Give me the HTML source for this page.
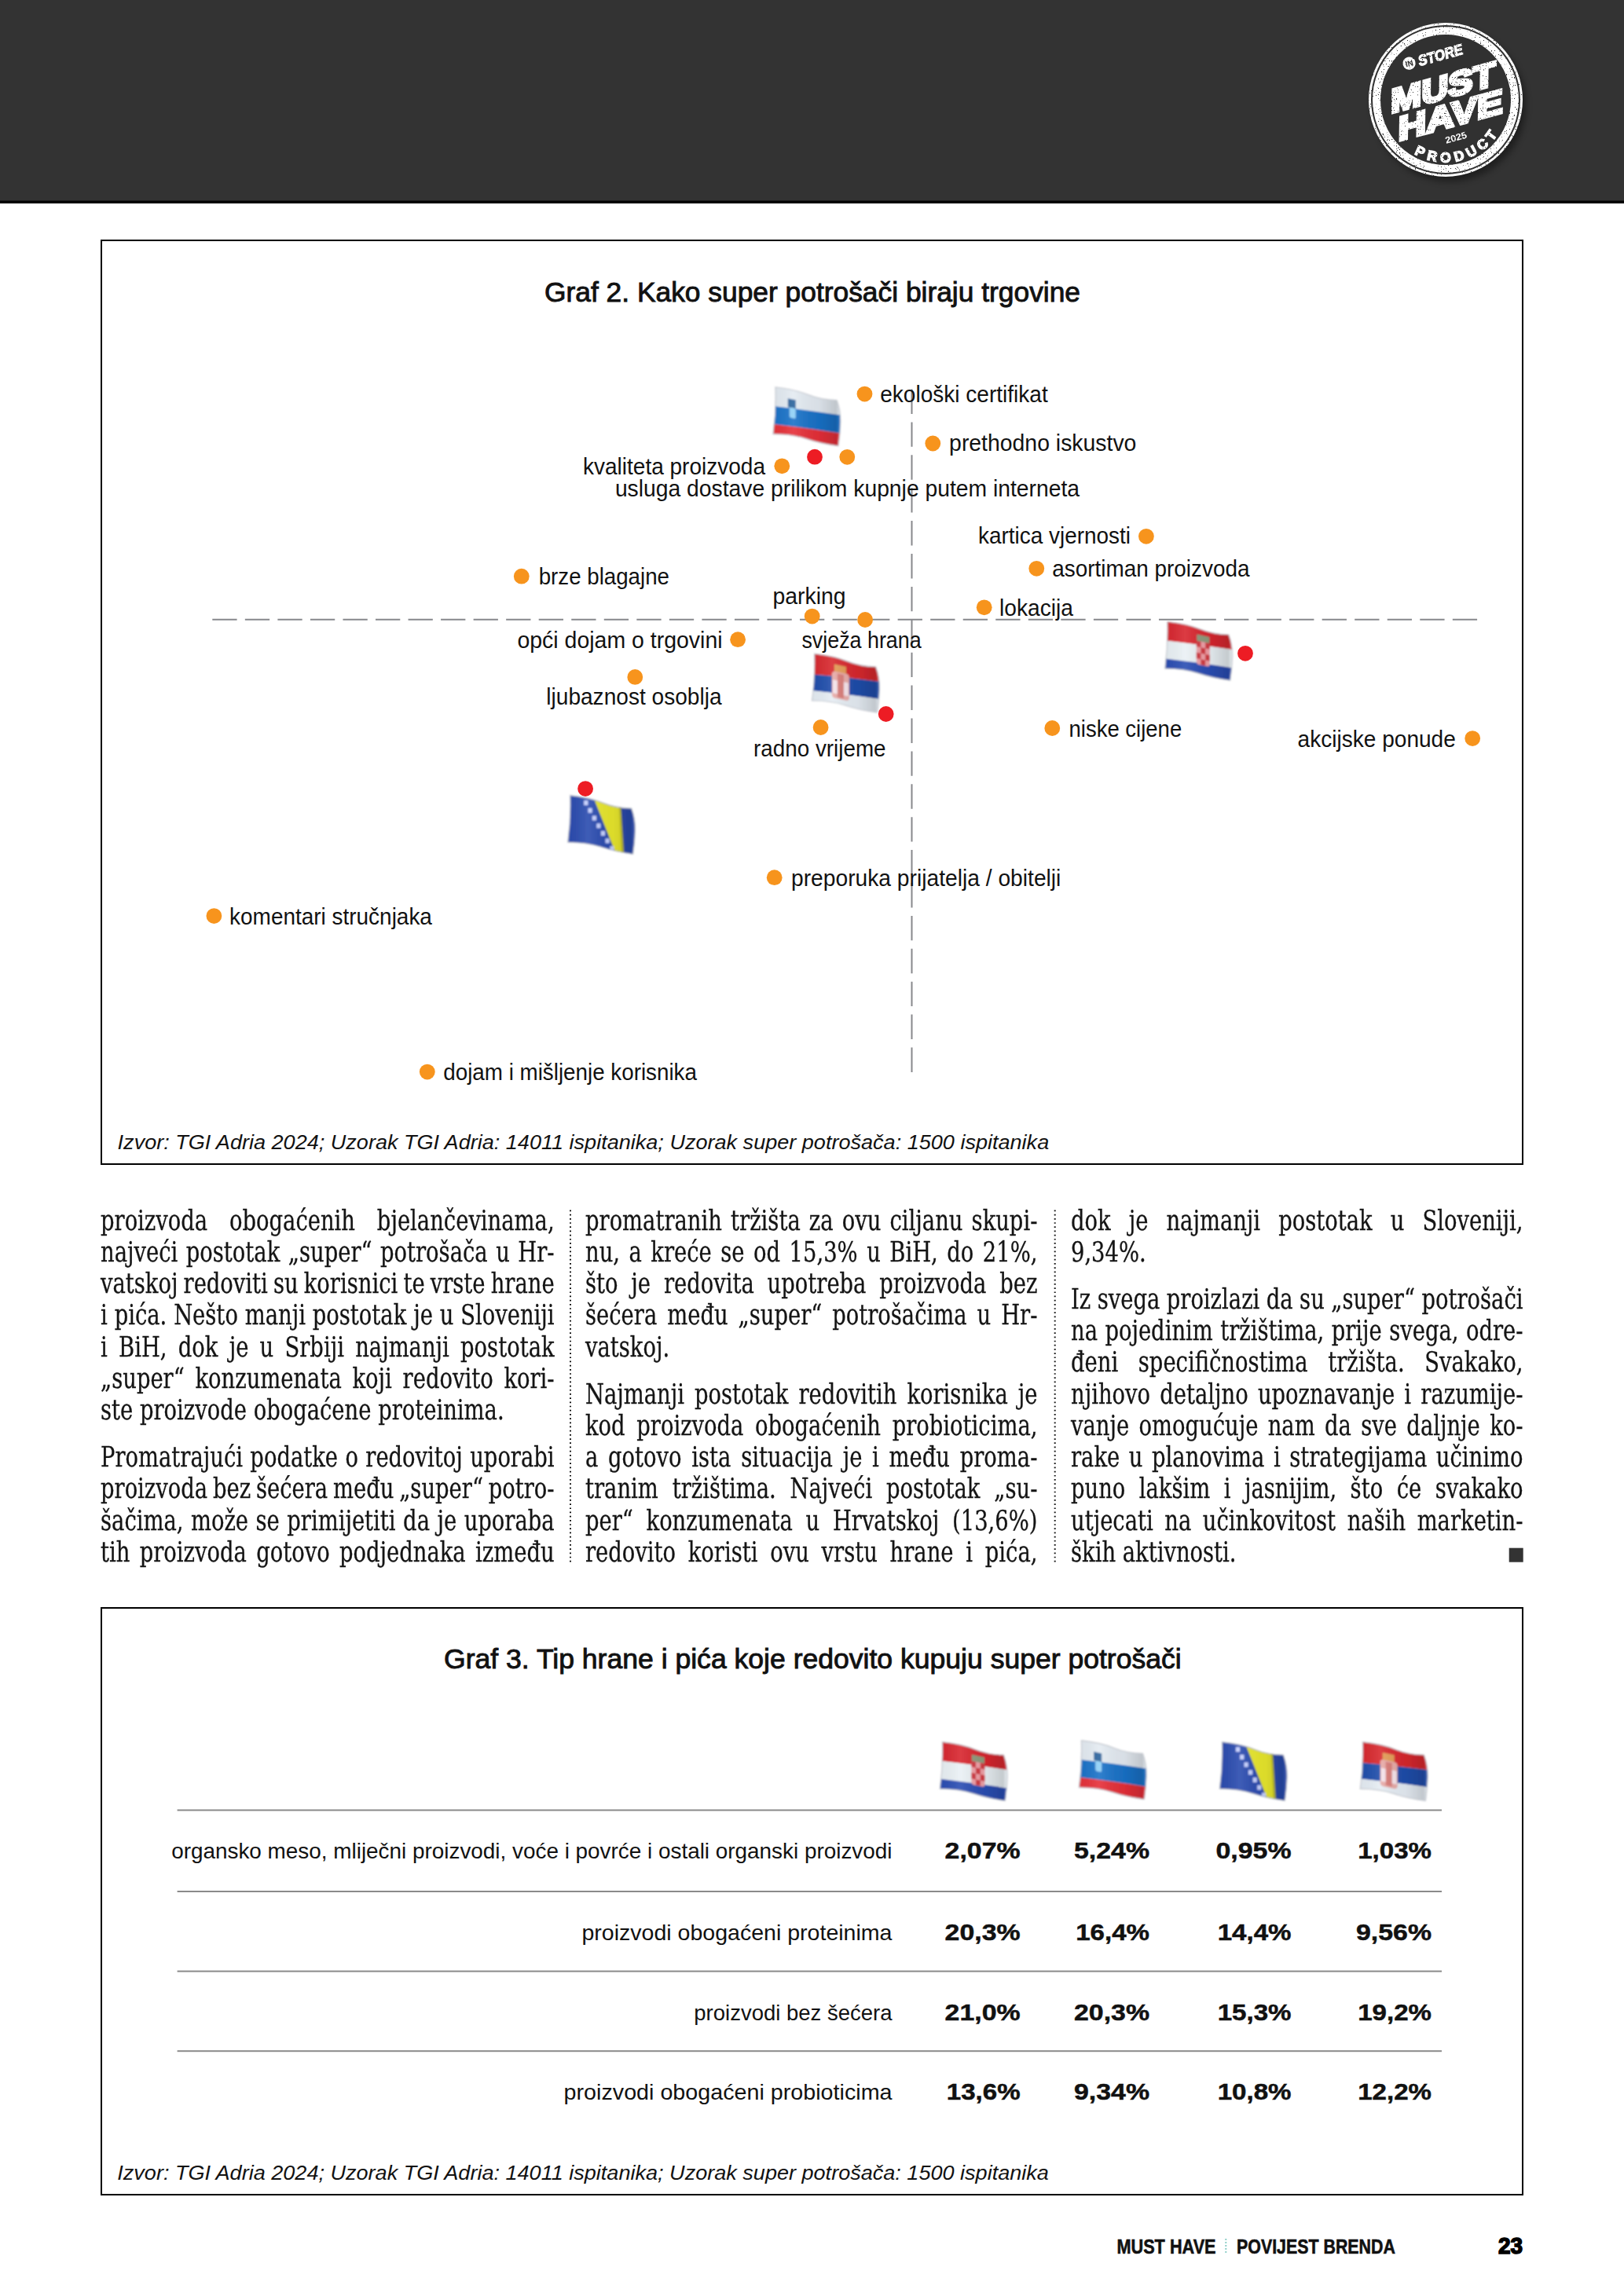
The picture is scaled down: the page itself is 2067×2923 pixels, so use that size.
<!DOCTYPE html>
<html lang="hr"><head><meta charset="utf-8"><title>Must Have – Povijest brenda</title>
<style>
html,body{margin:0;padding:0;background:#fff}
body{width:2067px;height:2923px;position:relative}
.col{position:absolute;top:1533.6px;font-family:"DejaVu Serif Condensed", "DejaVu Serif", "Liberation Serif", serif;font-stretch:condensed;font-size:35px;line-height:40.27px;color:#141414;-webkit-text-stroke:0.3px #141414;word-spacing:-3px;transform:scaleX(0.87);transform-origin:0 0}
.col p{margin:0 0 19.6px 0}
.l{display:block;white-space:nowrap;text-align:justify;text-align-last:justify}
.l.e{text-align:left;text-align-last:left;word-spacing:0}
</style></head><body>
<svg width="2067" height="2923" viewBox="0 0 2067 2923" style="position:absolute;left:0;top:0" font-family='"Liberation Sans", Arial, sans-serif'>
<defs><filter id="fb" x="-10%" y="-10%" width="120%" height="120%"><feGaussianBlur stdDeviation="0.9"/></filter><linearGradient id="fs" x1="0" y1="0" x2="1" y2="0"><stop offset="0" stop-color="#000" stop-opacity="0.04"/><stop offset="0.3" stop-color="#fff" stop-opacity="0.10"/><stop offset="0.62" stop-color="#000" stop-opacity="0.05"/><stop offset="0.85" stop-color="#000" stop-opacity="0.16"/><stop offset="0.92" stop-color="#fff" stop-opacity="0.05"/><stop offset="1" stop-color="#000" stop-opacity="0.1"/></linearGradient><filter id="grunge" x="-5%" y="-5%" width="110%" height="110%"><feTurbulence type="fractalNoise" baseFrequency="0.7" numOctaves="2" seed="7" result="n"/><feColorMatrix in="n" type="matrix" values="0 0 0 0 0  0 0 0 0 0  0 0 0 0 0  -13 0 0 0 9.6" result="m"/><feComposite in="SourceGraphic" in2="m" operator="in"/></filter><filter id="bsh" x="-20%" y="-20%" width="150%" height="150%"><feGaussianBlur stdDeviation="4"/></filter></defs>
<rect x="0" y="0" width="2067" height="256" fill="#333"/><rect x="0" y="255.5" width="2067" height="3.5" fill="#000"/>
<rect x="129" y="306" width="1809" height="1176" fill="#fff" stroke="#000" stroke-width="2"/>
<rect x="129" y="2047" width="1809" height="747" fill="#fff" stroke="#000" stroke-width="2"/>
<line x1="270.3" y1="788.8" x2="1880.1" y2="788.8" stroke="#87888c" stroke-width="2" stroke-dasharray="31.3 10.24"/>
<line x1="1160.5" y1="1364.9" x2="1160.5" y2="495.5" stroke="#87888c" stroke-width="2" stroke-dasharray="31.4 10.5"/>
<text x="693" y="384" font-size="34.6" textLength="682" lengthAdjust="spacingAndGlyphs" fill="#111" stroke="#111" stroke-width="0.9">Graf 2. Kako super potrošači biraju trgovine</text>
<text x="565" y="2124.4" font-size="34.6" textLength="938.7" lengthAdjust="spacingAndGlyphs" fill="#111" stroke="#111" stroke-width="0.9">Graf 3. Tip hrane i pića koje redovito kupuju super potrošači</text>
<text x="1120.2" y="512.0" font-size="28.6" textLength="213.5" lengthAdjust="spacingAndGlyphs" fill="#111">ekološki certifikat</text>
<text x="1208.1" y="573.7" font-size="28.6" textLength="238.3" lengthAdjust="spacingAndGlyphs" fill="#111">prethodno iskustvo</text>
<text x="742" y="603.7" font-size="28.6" textLength="232.0" lengthAdjust="spacingAndGlyphs" fill="#111">kvaliteta proizvoda</text>
<text x="782.9" y="631.7" font-size="28.6" textLength="591.1" lengthAdjust="spacingAndGlyphs" fill="#111">usluga dostave prilikom kupnje putem interneta</text>
<text x="1245" y="691.7" font-size="28.6" textLength="194.0" lengthAdjust="spacingAndGlyphs" fill="#111">kartica vjernosti</text>
<text x="1339.3" y="734.4000000000001" font-size="28.6" textLength="251.2" lengthAdjust="spacingAndGlyphs" fill="#111">asortiman proizvoda</text>
<text x="685.7" y="744.3000000000001" font-size="28.6" textLength="166.3" lengthAdjust="spacingAndGlyphs" fill="#111">brze blagajne</text>
<text x="983.5" y="769.0" font-size="28.6" textLength="93.1" lengthAdjust="spacingAndGlyphs" fill="#111">parking</text>
<text x="1272" y="784.3000000000001" font-size="28.6" textLength="93.9" lengthAdjust="spacingAndGlyphs" fill="#111">lokacija</text>
<text x="658.4" y="824.5" font-size="28.6" textLength="261.2" lengthAdjust="spacingAndGlyphs" fill="#111">opći dojam o trgovini</text>
<text x="1020.4" y="824.5" font-size="28.6" textLength="152.3" lengthAdjust="spacingAndGlyphs" fill="#111">svježa hrana</text>
<text x="695.3" y="897.2" font-size="28.6" textLength="223.2" lengthAdjust="spacingAndGlyphs" fill="#111">ljubaznost osoblja</text>
<text x="959" y="963.0" font-size="28.6" textLength="168.6" lengthAdjust="spacingAndGlyphs" fill="#111">radno vrijeme</text>
<text x="1360.5" y="937.7" font-size="28.6" textLength="143.7" lengthAdjust="spacingAndGlyphs" fill="#111">niske cijene</text>
<text x="1651.6" y="951.2" font-size="28.6" textLength="201.2" lengthAdjust="spacingAndGlyphs" fill="#111">akcijske ponude</text>
<text x="1007" y="1127.7" font-size="28.6" textLength="343.4" lengthAdjust="spacingAndGlyphs" fill="#111">preporuka prijatelja / obitelji</text>
<text x="292.1" y="1176.7" font-size="28.6" textLength="257.8" lengthAdjust="spacingAndGlyphs" fill="#111">komentari stručnjaka</text>
<text x="564.3" y="1374.5" font-size="28.6" textLength="322.6" lengthAdjust="spacingAndGlyphs" fill="#111">dojam i mišljenje korisnika</text>
<g transform="translate(984.6,493.6)"><clipPath id="ca"><path d="M3,0 Q28,3 44,9.5 T80,16.5 Q85,30 84.5,45 T81.8,73.5 Q60,70.5 42,64.5 T0,58.5 Q4,30 3,0Z"/></clipPath><g filter="url(#fb)"><path d="M3,0 Q28,3 44,9.5 T80,16.5 Q85,30 84.5,45 T81.8,73.5 Q60,70.5 42,64.5 T0,58.5 Q4,30 3,0Z" fill="#fff" stroke="#c4c8cf" stroke-width="2.4"/><g clip-path="url(#ca)"><path d="M1.2,-3.5 Q41.5,4.1 85.9,14.1 L86.6,35.2 Q41.3,28.1 -0.2,23.4Z" fill="#e4ebf2"/><path d="M-0.2,23.4 Q41.3,28.1 86.6,35.2 L87.3,58.5 Q41.1,51.2 -1.4,46.2Z" fill="#1a72c8"/><path d="M-1.4,46.2 Q41.1,51.2 87.3,58.5 L87.9,77.9 Q40.9,68.8 -2.2,62.0Z" fill="#e62f38"/><g transform="translate(23.2,23.6) skewY(12)"><rect x="-5" y="-9" width="10" height="11" fill="#2a639c"/><rect x="-3" y="2" width="8" height="13" rx="2" fill="#8fd0f7"/></g><rect x="-5" y="-5" width="100" height="90" fill="url(#fs)"/></g></g></g>
<g transform="translate(1034.2,832.9)"><clipPath id="cb"><path d="M3,0 Q28,3 44,9.5 T80,16.5 Q85,30 84.5,45 T81.8,73.5 Q60,70.5 42,64.5 T0,58.5 Q4,30 3,0Z"/></clipPath><g filter="url(#fb)"><path d="M3,0 Q28,3 44,9.5 T80,16.5 Q85,30 84.5,45 T81.8,73.5 Q60,70.5 42,64.5 T0,58.5 Q4,30 3,0Z" fill="#fff" stroke="#c4c8cf" stroke-width="2.4"/><g clip-path="url(#cb)"><path d="M1.2,-3.5 Q41.5,4.1 85.9,14.1 L86.6,35.2 Q41.3,29.2 -0.3,25.7Z" fill="#d8282e"/><path d="M-0.3,25.7 Q41.3,29.2 86.6,35.2 L87.3,57.4 Q41.1,50.6 -1.4,46.2Z" fill="#1f4dab"/><path d="M-1.4,46.2 Q41.1,50.6 87.3,57.4 L87.9,77.9 Q40.9,68.8 -2.2,62.0Z" fill="#e6edf4"/><g transform="translate(35.7,35.4) skewY(12)"><rect x="-8" y="-21" width="15" height="10" fill="#e39a55"/><rect x="-11" y="-12" width="22" height="34" rx="4" fill="#e7a9a6"/><rect x="-4" y="-10" width="8" height="30" fill="#d77a76"/><rect x="-10" y="-1" width="6" height="17" fill="#f5e3ea"/><rect x="4" y="-1" width="6" height="17" fill="#f5e3ea"/></g><rect x="-5" y="-5" width="100" height="90" fill="url(#fs)"/></g></g></g>
<g transform="translate(1483.4,792.1)"><clipPath id="cc"><path d="M3,0 Q28,3 44,9.5 T80,16.5 Q85,30 84.5,45 T81.8,73.5 Q60,70.5 42,64.5 T0,58.5 Q4,30 3,0Z"/></clipPath><g filter="url(#fb)"><path d="M3,0 Q28,3 44,9.5 T80,16.5 Q85,30 84.5,45 T81.8,73.5 Q60,70.5 42,64.5 T0,58.5 Q4,30 3,0Z" fill="#fff" stroke="#c4c8cf" stroke-width="2.4"/><g clip-path="url(#cc)"><path d="M1.2,-3.5 Q41.5,4.1 85.9,14.1 L86.6,35.2 Q41.3,28.1 -0.2,23.4Z" fill="#d8262f"/><path d="M-0.2,23.4 Q41.3,28.1 86.6,35.2 L87.3,58.5 Q41.1,51.2 -1.4,46.2Z" fill="#eaf1f5"/><path d="M-1.4,46.2 Q41.1,51.2 87.3,58.5 L87.9,77.9 Q40.9,68.8 -2.2,62.0Z" fill="#2a4db3"/><g transform="translate(47.9,40.2) skewY(12)"><rect x="-8" y="-23" width="16" height="9" fill="#8d9a7c"/><rect x="-8.5" y="-15" width="17" height="30" rx="3.5" fill="#ef9fa6"/><rect x="-8.5" y="-15" width="5.6" height="7.5" fill="#cf3a42"/><rect x="2.9" y="-15" width="5.6" height="7.5" fill="#cf3a42"/><rect x="-2.9" y="-7.5" width="5.8" height="7.5" fill="#cf3a42"/><rect x="-8.5" y="0" width="5.6" height="7.5" fill="#cf3a42"/><rect x="2.9" y="0" width="5.6" height="7.5" fill="#cf3a42"/><rect x="-2.9" y="7.5" width="5.8" height="7" fill="#cf3a42"/></g><rect x="-5" y="-5" width="100" height="90" fill="url(#fs)"/></g></g></g>
<g transform="translate(723.3,1013.2)"><clipPath id="cd"><path d="M3,0 Q28,3 44,9.5 T80,16.5 Q85,30 84.5,45 T81.8,73.5 Q60,70.5 42,64.5 T0,58.5 Q4,30 3,0Z"/></clipPath><g filter="url(#fb)"><path d="M3,0 Q28,3 44,9.5 T80,16.5 Q85,30 84.5,45 T81.8,73.5 Q60,70.5 42,64.5 T0,58.5 Q4,30 3,0Z" fill="#fff" stroke="#c4c8cf" stroke-width="2.4"/><g clip-path="url(#cd)"><path d="M1.2,-3.5 Q41.5,4.1 85.9,14.1 L87.9,77.9 Q40.9,68.8 -2.2,62.0Z" fill="#2a4baf"/><polygon points="33.1,4.7 66.9,12.0 70.8,73.2 59.7,71.2" fill="#e8e72c"/><polygon points="64.6,11.5 67.3,12.1 71.0,73.2 67.9,72.7" fill="#6b6f3a" opacity="0.35"/><rect x="19.9" y="5.9" width="5.2" height="6" fill="#c5d0ff"/><rect x="25.2" y="15.6" width="5.2" height="6" fill="#c5d0ff"/><rect x="30.5" y="25.3" width="5.2" height="6" fill="#c5d0ff"/><rect x="36.0" y="35.1" width="5.2" height="6" fill="#c5d0ff"/><rect x="41.6" y="44.7" width="5.2" height="6" fill="#c5d0ff"/><rect x="47.2" y="54.3" width="5.2" height="6" fill="#c5d0ff"/><rect x="53.0" y="64.0" width="5.2" height="6" fill="#c5d0ff"/><rect x="-5" y="-5" width="100" height="90" fill="url(#fs)"/></g></g></g>
<circle cx="1100.5" cy="501.6" r="9.9" fill="#f7941d"/>
<circle cx="1187.3" cy="564.5" r="9.9" fill="#f7941d"/>
<circle cx="995.3" cy="593.3" r="9.9" fill="#f7941d"/>
<circle cx="1037.0" cy="581.7" r="9.9" fill="#ed1c24"/>
<circle cx="1078.3" cy="581.8" r="9.9" fill="#f7941d"/>
<circle cx="1458.9" cy="682.8" r="9.9" fill="#f7941d"/>
<circle cx="1319.3" cy="723.8" r="9.9" fill="#f7941d"/>
<circle cx="663.8" cy="733.7" r="9.9" fill="#f7941d"/>
<circle cx="1033.7" cy="784.6" r="9.9" fill="#f7941d"/>
<circle cx="1101.1" cy="789.0" r="9.9" fill="#f7941d"/>
<circle cx="1252.7" cy="773.3" r="9.9" fill="#f7941d"/>
<circle cx="939.1" cy="814.2" r="9.9" fill="#f7941d"/>
<circle cx="808.3" cy="861.9" r="9.9" fill="#f7941d"/>
<circle cx="1044.6" cy="926.0" r="9.9" fill="#f7941d"/>
<circle cx="1127.7" cy="909.0" r="9.9" fill="#ed1c24"/>
<circle cx="1585.0" cy="831.8" r="9.9" fill="#ed1c24"/>
<circle cx="1339.3" cy="927.0" r="9.9" fill="#f7941d"/>
<circle cx="1874.2" cy="940.1" r="9.9" fill="#f7941d"/>
<circle cx="745.1" cy="1004.1" r="9.9" fill="#ed1c24"/>
<circle cx="985.7" cy="1117.2" r="9.9" fill="#f7941d"/>
<circle cx="272.4" cy="1166.1" r="9.9" fill="#f7941d"/>
<circle cx="543.8" cy="1364.6" r="9.9" fill="#f7941d"/>
<text x="149.6" y="1462.9" font-size="26.6" font-style="italic" textLength="1185.6" lengthAdjust="spacingAndGlyphs" fill="#111">Izvor: TGI Adria 2024; Uzorak TGI Adria: 14011 ispitanika; Uzorak super potrošača: 1500 ispitanika</text>
<text x="149.3" y="2775.3" font-size="26.6" font-style="italic" textLength="1185.6" lengthAdjust="spacingAndGlyphs" fill="#111">Izvor: TGI Adria 2024; Uzorak TGI Adria: 14011 ispitanika; Uzorak super potrošača: 1500 ispitanika</text>
<rect x="225.6" y="2303.5" width="1609.4" height="2" fill="#8a8a8a"/>
<rect x="225.6" y="2407" width="1609.4" height="2" fill="#8a8a8a"/>
<rect x="225.6" y="2508.6" width="1609.4" height="2" fill="#8a8a8a"/>
<rect x="225.6" y="2610.2" width="1609.4" height="2" fill="#8a8a8a"/>
<text x="218.2" y="2366" font-size="28" textLength="917.3" lengthAdjust="spacingAndGlyphs" fill="#111">organsko meso, mliječni proizvodi, voće i povrće i ostali organski proizvodi</text>
<text x="1202.6" y="2366" font-size="30.4" font-weight="700" textLength="96" lengthAdjust="spacingAndGlyphs" fill="#111" stroke="#111" stroke-width="0.5">2,07%</text>
<text x="1367" y="2366" font-size="30.4" font-weight="700" textLength="96" lengthAdjust="spacingAndGlyphs" fill="#111" stroke="#111" stroke-width="0.5">5,24%</text>
<text x="1547.5" y="2366" font-size="30.4" font-weight="700" textLength="96" lengthAdjust="spacingAndGlyphs" fill="#111" stroke="#111" stroke-width="0.5">0,95%</text>
<text x="1728.2" y="2366" font-size="30.4" font-weight="700" textLength="93.8" lengthAdjust="spacingAndGlyphs" fill="#111" stroke="#111" stroke-width="0.5">1,03%</text>
<text x="740.4" y="2469.6" font-size="28" textLength="395.1" lengthAdjust="spacingAndGlyphs" fill="#111">proizvodi obogaćeni proteinima</text>
<text x="1202.6" y="2469.6" font-size="30.4" font-weight="700" textLength="96" lengthAdjust="spacingAndGlyphs" fill="#111" stroke="#111" stroke-width="0.5">20,3%</text>
<text x="1369.2" y="2469.6" font-size="30.4" font-weight="700" textLength="93.8" lengthAdjust="spacingAndGlyphs" fill="#111" stroke="#111" stroke-width="0.5">16,4%</text>
<text x="1549.7" y="2469.6" font-size="30.4" font-weight="700" textLength="93.8" lengthAdjust="spacingAndGlyphs" fill="#111" stroke="#111" stroke-width="0.5">14,4%</text>
<text x="1726" y="2469.6" font-size="30.4" font-weight="700" textLength="96" lengthAdjust="spacingAndGlyphs" fill="#111" stroke="#111" stroke-width="0.5">9,56%</text>
<text x="883.3" y="2572.4" font-size="28" textLength="252.2" lengthAdjust="spacingAndGlyphs" fill="#111">proizvodi bez šećera</text>
<text x="1202.6" y="2572.4" font-size="30.4" font-weight="700" textLength="96" lengthAdjust="spacingAndGlyphs" fill="#111" stroke="#111" stroke-width="0.5">21,0%</text>
<text x="1367" y="2572.4" font-size="30.4" font-weight="700" textLength="96" lengthAdjust="spacingAndGlyphs" fill="#111" stroke="#111" stroke-width="0.5">20,3%</text>
<text x="1549.7" y="2572.4" font-size="30.4" font-weight="700" textLength="93.8" lengthAdjust="spacingAndGlyphs" fill="#111" stroke="#111" stroke-width="0.5">15,3%</text>
<text x="1728.2" y="2572.4" font-size="30.4" font-weight="700" textLength="93.8" lengthAdjust="spacingAndGlyphs" fill="#111" stroke="#111" stroke-width="0.5">19,2%</text>
<text x="717.6" y="2672.8" font-size="28" textLength="417.9" lengthAdjust="spacingAndGlyphs" fill="#111">proizvodi obogaćeni probioticima</text>
<text x="1204.8" y="2672.8" font-size="30.4" font-weight="700" textLength="93.8" lengthAdjust="spacingAndGlyphs" fill="#111" stroke="#111" stroke-width="0.5">13,6%</text>
<text x="1367" y="2672.8" font-size="30.4" font-weight="700" textLength="96" lengthAdjust="spacingAndGlyphs" fill="#111" stroke="#111" stroke-width="0.5">9,34%</text>
<text x="1549.7" y="2672.8" font-size="30.4" font-weight="700" textLength="93.8" lengthAdjust="spacingAndGlyphs" fill="#111" stroke="#111" stroke-width="0.5">10,8%</text>
<text x="1728.2" y="2672.8" font-size="30.4" font-weight="700" textLength="93.8" lengthAdjust="spacingAndGlyphs" fill="#111" stroke="#111" stroke-width="0.5">12,2%</text>
<g transform="translate(1197.0,2218.3)"><clipPath id="ce"><path d="M3,0 Q28,3 44,9.5 T80,16.5 Q85,30 84.5,45 T81.8,73.5 Q60,70.5 42,64.5 T0,58.5 Q4,30 3,0Z"/></clipPath><g filter="url(#fb)"><path d="M3,0 Q28,3 44,9.5 T80,16.5 Q85,30 84.5,45 T81.8,73.5 Q60,70.5 42,64.5 T0,58.5 Q4,30 3,0Z" fill="#fff" stroke="#c4c8cf" stroke-width="2.4"/><g clip-path="url(#ce)"><path d="M1.2,-3.5 Q41.5,4.1 85.9,14.1 L86.6,35.2 Q41.3,28.1 -0.2,23.4Z" fill="#d8262f"/><path d="M-0.2,23.4 Q41.3,28.1 86.6,35.2 L87.3,58.5 Q41.1,51.2 -1.4,46.2Z" fill="#eaf1f5"/><path d="M-1.4,46.2 Q41.1,51.2 87.3,58.5 L87.9,77.9 Q40.9,68.8 -2.2,62.0Z" fill="#2a4db3"/><g transform="translate(47.9,40.2) skewY(12)"><rect x="-8" y="-23" width="16" height="9" fill="#8d9a7c"/><rect x="-8.5" y="-15" width="17" height="30" rx="3.5" fill="#ef9fa6"/><rect x="-8.5" y="-15" width="5.6" height="7.5" fill="#cf3a42"/><rect x="2.9" y="-15" width="5.6" height="7.5" fill="#cf3a42"/><rect x="-2.9" y="-7.5" width="5.8" height="7.5" fill="#cf3a42"/><rect x="-8.5" y="0" width="5.6" height="7.5" fill="#cf3a42"/><rect x="2.9" y="0" width="5.6" height="7.5" fill="#cf3a42"/><rect x="-2.9" y="7.5" width="5.8" height="7" fill="#cf3a42"/></g><rect x="-5" y="-5" width="100" height="90" fill="url(#fs)"/></g></g></g>
<g transform="translate(1374.0,2216.5)"><clipPath id="cf"><path d="M3,0 Q28,3 44,9.5 T80,16.5 Q85,30 84.5,45 T81.8,73.5 Q60,70.5 42,64.5 T0,58.5 Q4,30 3,0Z"/></clipPath><g filter="url(#fb)"><path d="M3,0 Q28,3 44,9.5 T80,16.5 Q85,30 84.5,45 T81.8,73.5 Q60,70.5 42,64.5 T0,58.5 Q4,30 3,0Z" fill="#fff" stroke="#c4c8cf" stroke-width="2.4"/><g clip-path="url(#cf)"><path d="M1.2,-3.5 Q41.5,4.1 85.9,14.1 L86.6,35.2 Q41.3,28.1 -0.2,23.4Z" fill="#e4ebf2"/><path d="M-0.2,23.4 Q41.3,28.1 86.6,35.2 L87.3,58.5 Q41.1,51.2 -1.4,46.2Z" fill="#1a72c8"/><path d="M-1.4,46.2 Q41.1,51.2 87.3,58.5 L87.9,77.9 Q40.9,68.8 -2.2,62.0Z" fill="#e62f38"/><g transform="translate(23.2,23.6) skewY(12)"><rect x="-5" y="-9" width="10" height="11" fill="#2a639c"/><rect x="-3" y="2" width="8" height="13" rx="2" fill="#8fd0f7"/></g><rect x="-5" y="-5" width="100" height="90" fill="url(#fs)"/></g></g></g>
<g transform="translate(1553.0,2218.3)"><clipPath id="cg"><path d="M3,0 Q28,3 44,9.5 T80,16.5 Q85,30 84.5,45 T81.8,73.5 Q60,70.5 42,64.5 T0,58.5 Q4,30 3,0Z"/></clipPath><g filter="url(#fb)"><path d="M3,0 Q28,3 44,9.5 T80,16.5 Q85,30 84.5,45 T81.8,73.5 Q60,70.5 42,64.5 T0,58.5 Q4,30 3,0Z" fill="#fff" stroke="#c4c8cf" stroke-width="2.4"/><g clip-path="url(#cg)"><path d="M1.2,-3.5 Q41.5,4.1 85.9,14.1 L87.9,77.9 Q40.9,68.8 -2.2,62.0Z" fill="#2a4baf"/><polygon points="33.1,4.7 66.9,12.0 70.8,73.2 59.7,71.2" fill="#e8e72c"/><polygon points="64.6,11.5 67.3,12.1 71.0,73.2 67.9,72.7" fill="#6b6f3a" opacity="0.35"/><rect x="19.9" y="5.9" width="5.2" height="6" fill="#c5d0ff"/><rect x="25.2" y="15.6" width="5.2" height="6" fill="#c5d0ff"/><rect x="30.5" y="25.3" width="5.2" height="6" fill="#c5d0ff"/><rect x="36.0" y="35.1" width="5.2" height="6" fill="#c5d0ff"/><rect x="41.6" y="44.7" width="5.2" height="6" fill="#c5d0ff"/><rect x="47.2" y="54.3" width="5.2" height="6" fill="#c5d0ff"/><rect x="53.0" y="64.0" width="5.2" height="6" fill="#c5d0ff"/><rect x="-5" y="-5" width="100" height="90" fill="url(#fs)"/></g></g></g>
<g transform="translate(1732.0,2218.3)"><clipPath id="ch"><path d="M3,0 Q28,3 44,9.5 T80,16.5 Q85,30 84.5,45 T81.8,73.5 Q60,70.5 42,64.5 T0,58.5 Q4,30 3,0Z"/></clipPath><g filter="url(#fb)"><path d="M3,0 Q28,3 44,9.5 T80,16.5 Q85,30 84.5,45 T81.8,73.5 Q60,70.5 42,64.5 T0,58.5 Q4,30 3,0Z" fill="#fff" stroke="#c4c8cf" stroke-width="2.4"/><g clip-path="url(#ch)"><path d="M1.2,-3.5 Q41.5,4.1 85.9,14.1 L86.6,35.2 Q41.3,29.2 -0.3,25.7Z" fill="#d8282e"/><path d="M-0.3,25.7 Q41.3,29.2 86.6,35.2 L87.3,57.4 Q41.1,50.6 -1.4,46.2Z" fill="#1f4dab"/><path d="M-1.4,46.2 Q41.1,50.6 87.3,57.4 L87.9,77.9 Q40.9,68.8 -2.2,62.0Z" fill="#e6edf4"/><g transform="translate(35.7,35.4) skewY(12)"><rect x="-8" y="-21" width="15" height="10" fill="#e39a55"/><rect x="-11" y="-12" width="22" height="34" rx="4" fill="#e7a9a6"/><rect x="-4" y="-10" width="8" height="30" fill="#d77a76"/><rect x="-10" y="-1" width="6" height="17" fill="#f5e3ea"/><rect x="4" y="-1" width="6" height="17" fill="#f5e3ea"/></g><rect x="-5" y="-5" width="100" height="90" fill="url(#fs)"/></g></g></g>
<text x="1421.4" y="2868.6" font-size="25.2" font-weight="700" textLength="126.2" lengthAdjust="spacingAndGlyphs" fill="#111" stroke="#111" stroke-width="0.6">MUST HAVE</text>
<text x="1574" y="2868.6" font-size="25.2" font-weight="700" textLength="201.9" lengthAdjust="spacingAndGlyphs" fill="#111" stroke="#111" stroke-width="0.6">POVIJEST BRENDA</text>
<line x1="1560.3" y1="2850" x2="1560.3" y2="2870" stroke="#8fcfc8" stroke-width="2" stroke-dasharray="2 2"/>
<text x="1906.9" y="2868.6" font-size="30" font-weight="700" textLength="31.1" lengthAdjust="spacingAndGlyphs" fill="#000" stroke="#000" stroke-width="1.6">23</text>
<line x1="726" y1="1540.6" x2="726" y2="1988.5" stroke="#111" stroke-width="2" stroke-dasharray="1.7 3.489"/>
<line x1="1342.7" y1="1540.6" x2="1342.7" y2="1988.5" stroke="#111" stroke-width="2" stroke-dasharray="1.7 3.489"/>
<rect x="1920.7" y="1970.7" width="18" height="18" fill="#333"/>
<circle cx="1845" cy="134" r="97" fill="#000" opacity="0.4" filter="url(#bsh)"/>
<circle cx="1840" cy="127" r="97" fill="#313131"/>
<g filter="url(#grunge)">
<circle cx="1840" cy="127" r="96.5" fill="none" stroke="#fff" stroke-width="3"/>
<circle cx="1840" cy="127" r="88" fill="none" stroke="#fff" stroke-width="10"/>
<g transform="translate(1840,127) rotate(-15.3)" fill="#fff" font-weight="700">
<circle cx="-32.6" cy="-57" r="8.1" fill="#fff"/><text x="-32.6" y="-53.2" font-size="10.5" text-anchor="middle" fill="#333" textLength="10" lengthAdjust="spacingAndGlyphs">IN</text>
<g transform="skewX(-8)"><text x="-28.4" y="-50.2" font-size="19" textLength="58.5" lengthAdjust="spacingAndGlyphs" stroke="#fff" stroke-width="1.1">STORE</text></g>
<g transform="skewX(-16)"><text x="-72.6" y="-1.8" font-size="41.4" textLength="138" lengthAdjust="spacingAndGlyphs" stroke="#fff" stroke-width="3.6" stroke-linejoin="miter">MUST</text>
<text x="-62.2" y="34.8" font-size="41.4" textLength="138" lengthAdjust="spacingAndGlyphs" stroke="#fff" stroke-width="3.6" stroke-linejoin="miter">HAVE</text></g>
<text x="0" y="54" font-size="11.8" text-anchor="middle" textLength="28" lengthAdjust="spacingAndGlyphs">2025</text>
</g>
<g transform="rotate(-14.75 1840 127)"><path id="arc" d="M1760.5,127 A79.5,79.5 0 0 0 1919.5,127" fill="none"/>
<text font-size="17.6" font-weight="700" fill="#fff" letter-spacing="5.4" stroke="#fff" stroke-width="1.4"><textPath href="#arc" startOffset="50%" text-anchor="middle">PRODUCT</textPath></text></g>
</g>
</svg>
<div class="col" style="left:128px;width:663.9px">
<p>
<span class="l">proizvoda obogaćenih bjelančevinama,</span>
<span class="l">najveći postotak „super“ potrošača u Hr-</span>
<span class="l">vatskoj redoviti su korisnici te vrste hrane</span>
<span class="l">i pića. Nešto manji postotak je u Sloveniji</span>
<span class="l">i BiH, dok je u Srbiji najmanji postotak</span>
<span class="l">„super“ konzumenata koji redovito kori-</span>
<span class="l e">ste proizvode obogaćene proteinima.</span>
</p>
<p>
<span class="l">Promatrajući podatke o redovitoj uporabi</span>
<span class="l">proizvoda bez šećera među „super“ potro-</span>
<span class="l">šačima, može se primijetiti da je uporaba</span>
<span class="l">tih proizvoda gotovo podjednaka između</span>
</p>
</div>
<div class="col" style="left:745.3px;width:661.4px">
<p>
<span class="l">promatranih tržišta za ovu ciljanu skupi-</span>
<span class="l">nu, a kreće se od 15,3% u BiH, do 21%,</span>
<span class="l">što je redovita upotreba proizvoda bez</span>
<span class="l">šećera među „super“ potrošačima u Hr-</span>
<span class="l e">vatskoj.</span>
</p>
<p>
<span class="l">Najmanji postotak redovitih korisnika je</span>
<span class="l">kod proizvoda obogaćenih probioticima,</span>
<span class="l">a gotovo ista situacija je i među proma-</span>
<span class="l">tranim tržištima. Najveći postotak „su-</span>
<span class="l">per“ konzumenata u Hrvatskoj (13,6%)</span>
<span class="l">redovito koristi ovu vrstu hrane i pića,</span>
</p>
</div>
<div class="col" style="left:1362.5px;width:661.5px">
<p>
<span class="l">dok je najmanji postotak u Sloveniji,</span>
<span class="l e">9,34%.</span>
</p>
<p>
<span class="l">Iz svega proizlazi da su „super“ potrošači</span>
<span class="l">na pojedinim tržištima, prije svega, odre-</span>
<span class="l">đeni specifičnostima tržišta. Svakako,</span>
<span class="l">njihovo detaljno upoznavanje i razumije-</span>
<span class="l">vanje omogućuje nam da sve daljnje ko-</span>
<span class="l">rake u planovima i strategijama učinimo</span>
<span class="l">puno lakšim i jasnijim, što će svakako</span>
<span class="l">utjecati na učinkovitost naših marketin-</span>
<span class="l e">ških aktivnosti.</span>
</p>
</div>
</body></html>
